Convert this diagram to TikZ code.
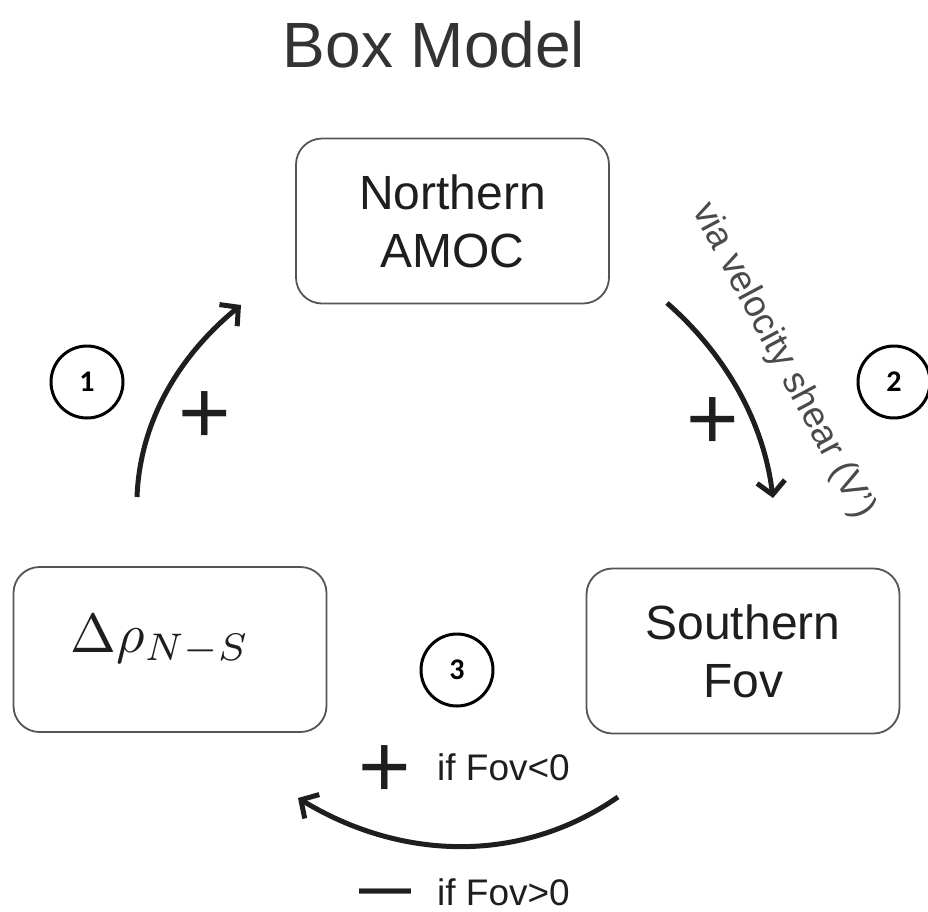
\documentclass[tikz,border=0pt]{standalone}
\usepackage{fontspec}
\setmainfont{Liberation Sans}
\newfontfamily\numfont{Carlito}
\usetikzlibrary{arrows.meta}
\definecolor{boxgray}{HTML}{555555}
\definecolor{ink}{HTML}{1E1E1E}
\definecolor{titlegray}{HTML}{333333}
\definecolor{labgray}{HTML}{4A4A4A}
\tikzset{
  stagebox/.style={draw=boxgray, line width=1.8pt, rounded corners=26pt, minimum width=313pt, minimum height=165pt, inner sep=0pt, text=ink, align=center, font=\fontsize{48}{58}\selectfont},
  numcircle/.style={draw=black, line width=3pt, circle, minimum size=72pt, inner sep=0pt, font=\numfont\bfseries\fontsize{30}{30}\selectfont},
  flow/.style={draw=ink, line width=5pt, -{Straight Barb[length=13pt,width=28pt,line width=5pt]}},
  signlab/.style={text=ink, inner sep=0pt, font=\fontsize{90}{90}\selectfont},
  condlab/.style={text=ink, inner sep=0pt, anchor=base west, font=\fontsize{37}{40}\selectfont}
}
\begin{document}
\begin{tikzpicture}[x=1pt,y=-1pt]
\useasboundingbox (0,0) rectangle (928,911);
\node[text=titlegray, font=\fontsize{64}{70}\selectfont] (title) at (434,45) {Box Model};
\node[stagebox] (north) at (452.5,221) {Northern\\AMOC};
\node[stagebox] (delta) at (170,649.5) {\normalsize\scalebox{5.5}{$\Delta\rho_{N-S}$}\rule[-32pt]{0pt}{0pt}\kern20pt};
\node[stagebox] (south) at (743,651) {Southern\\Fov};
\node[numcircle] (c1) at (87,382) {1};
\node[numcircle] (c2) at (894,382) {2};
\node[numcircle] (c3) at (457,670) {3};
% arrow 1
\coordinate (a1s) at (137,497);
\coordinate (a1e) at (241,305);
\draw[flow] (a1s) .. controls (140,420) and (180,355) .. (a1e);
\node[signlab] (p1) at (205,418) {+};
% arrow 2
\coordinate (a2s) at (667,303);
\coordinate (a2e) at (773,498);
\draw[flow] (a2s) .. controls (715,345) and (762,410) .. (a2e);
\node[signlab] (p2) at (713,424) {+};
\node[text=labgray, rotate=-62, inner sep=0pt, font=\fontsize{37}{38}\selectfont] (via) at (783,361) {via velocity shear (V’)};
% arrow 3
\coordinate (a3s) at (618,797);
\coordinate (a3e) at (298,798);
\draw[flow] (a3s) .. controls (520,865) and (400,860) .. (a3e);
\node[signlab] (p3) at (385,772) {+};
\node[condlab] (c3a) at (437,780) {if Fov<0};
\node[text=ink, inner sep=0pt, anchor=base, text height=18pt, text depth=0pt, font=\bfseries\fontsize{52}{52}\selectfont] (m3) at (385,905) {—};
\node[condlab] (c3b) at (437,905) {if Fov>0};
\end{tikzpicture}
\end{document}
